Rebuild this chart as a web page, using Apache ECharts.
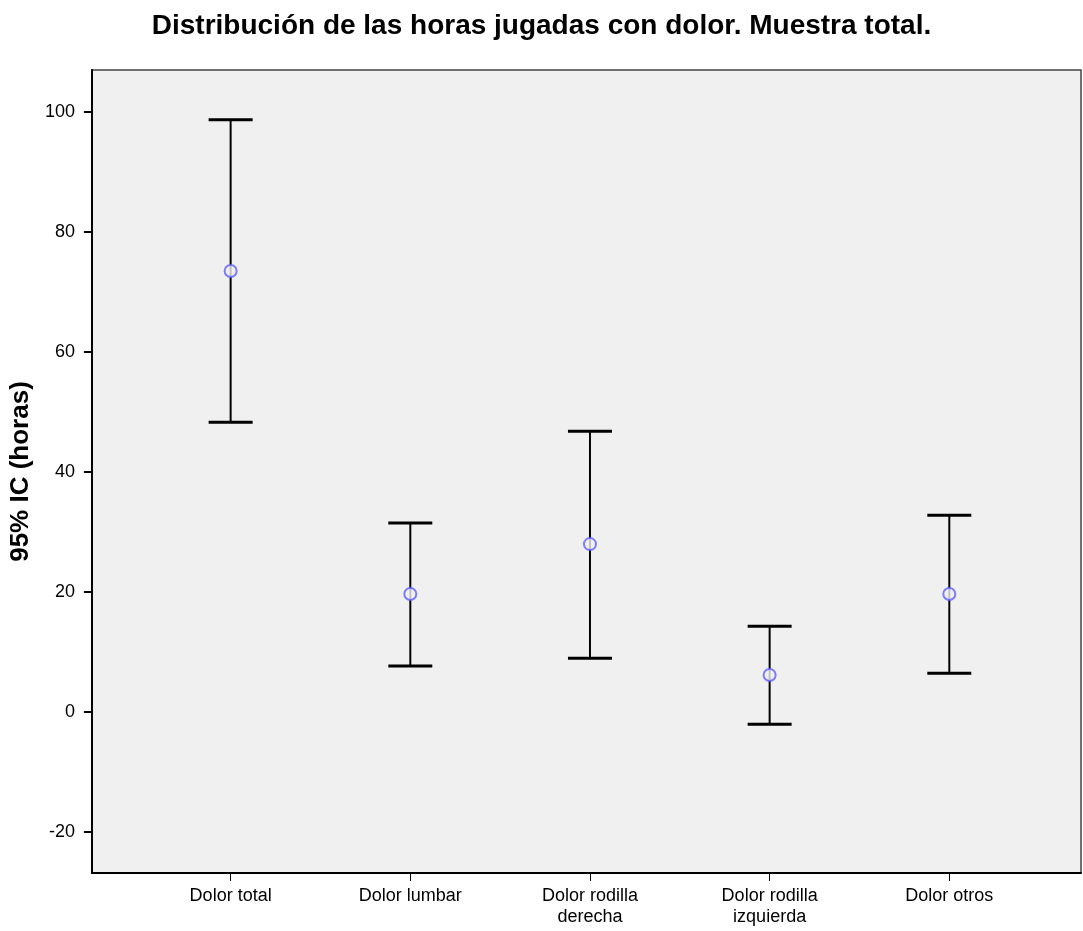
<!DOCTYPE html>
<html>
<head>
<meta charset="utf-8">
<script src="https://cdn.jsdelivr.net/npm/echarts@6/dist/echarts.min.js"></script>
<style>
  html, body { margin: 0; padding: 0; background: #ffffff; }
  #chart { width: 1083px; height: 931px; }
</style>
</head>
<body>
<div id="chart"></div>
<script>
// Categories and 95% confidence intervals of hours played with pain
const categories = ['Dolor total', 'Dolor lumbar', 'Dolor rodilla\nderecha', 'Dolor rodilla\nizquierda', 'Dolor otros'];
const means = [73.5, 19.7, 28.0, 6.2, 19.7];
const lowerCI = [48.3, 7.7, 9.0, -2.0, 6.5];
const upperCI = [98.7, 31.5, 46.8, 14.3, 32.8];
const yTicks = [-20, 0, 20, 40, 60, 80, 100];

const positions = categories.map((_, i) => i);
const intervalData = positions.map(i => [i, lowerCI[i], upperCI[i]]);
const meanData = positions.map(i => [i, means[i]]);

const chart = echarts.init(document.getElementById('chart'));

chart.setOption({
  animation: false,
  backgroundColor: '#ffffff',
  textStyle: { fontFamily: 'Liberation Sans, Arial, sans-serif' },
  title: {
    text: 'Distribución de las horas jugadas con dolor. Muestra total.',
    left: 'center',
    top: 7,
    textStyle: { fontSize: 28, fontWeight: 'bold', color: '#000', fontFamily: 'Liberation Sans, Arial, sans-serif' }
  },
  grid: {
    left: 90, right: 2, top: 70, bottom: 58,
    show: true,
    backgroundColor: '#f0f0f0',
    borderColor: '#444',
    borderWidth: 1.5
  },
  xAxis: {
    type: 'value',
    min: -0.772,
    max: 4.733,
    splitLine: { show: false },
    axisLine: { show: true, onZero: false, lineStyle: { color: '#000', width: 2 } },
    axisTick: { show: true, customValues: positions, length: 8, lineStyle: { color: '#000', width: 1 } },
    axisLabel: {
      customValues: positions,
      formatter: v => categories[Math.round(v)],
      color: '#000',
      fontSize: 18,
      lineHeight: 21,
      margin: 13
    }
  },
  yAxis: {
    type: 'value',
    min: -26.8,
    max: 107,
    name: '95% IC (horas)',
    nameLocation: 'middle',
    nameGap: 57,
    nameTextStyle: { fontSize: 26, fontWeight: 'bold', color: '#000' },
    splitLine: { show: false },
    axisLine: { show: true, onZero: false, lineStyle: { color: '#000', width: 2 } },
    axisTick: { show: true, customValues: yTicks, length: 8, lineStyle: { color: '#000', width: 2 } },
    axisLabel: { customValues: yTicks, color: '#000', fontSize: 18, margin: 17 }
  },
  series: [
    {
      type: 'custom',
      data: intervalData,
      renderItem: function (params, api) {
        const x = api.value(0);
        const lo = api.coord([x, api.value(1)]);
        const hi = api.coord([x, api.value(2)]);
        const half = 22;
        return {
          type: 'group',
          children: [
            { type: 'line', shape: { x1: lo[0], y1: lo[1], x2: hi[0], y2: hi[1] }, style: { stroke: '#000', lineWidth: 2 } },
            { type: 'line', shape: { x1: hi[0] - half, y1: hi[1], x2: hi[0] + half, y2: hi[1] }, style: { stroke: '#000', lineWidth: 3 } },
            { type: 'line', shape: { x1: lo[0] - half, y1: lo[1], x2: lo[0] + half, y2: lo[1] }, style: { stroke: '#000', lineWidth: 3 } }
          ]
        };
      },
      z: 2
    },
    {
      type: 'scatter',
      data: meanData,
      symbol: 'circle',
      symbolSize: 12,
      itemStyle: { color: '#f0f0f0', borderColor: '#5f5fff', borderWidth: 2 },
      z: 3
    }
  ]
});
</script>
</body>
</html>
